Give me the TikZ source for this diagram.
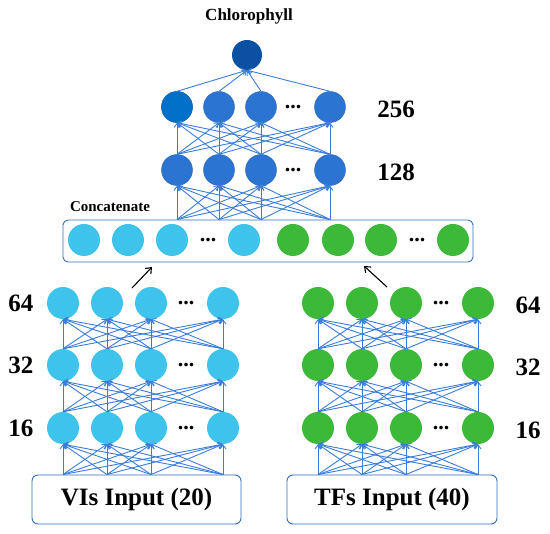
\documentclass[tikz,border=0pt]{standalone}
\usepackage{fontspec}
\setmainfont{Liberation Serif}
\usetikzlibrary{arrows.meta}

\definecolor{viblue}{HTML}{3EC4EC}
\definecolor{tfgreen}{HTML}{3DB93A}
\definecolor{hidblue}{HTML}{2B74D1}
\definecolor{firstblue}{HTML}{0070C8}
\definecolor{outblue}{HTML}{0B50A3}
\definecolor{edgeblue}{HTML}{3A7DD8}
\definecolor{boxblue}{HTML}{2F6DBF}

\begin{document}
\begin{tikzpicture}[x=1pt, y=-1pt, >=Straight Barb,
  neuron/.style={circle, inner sep=0pt, minimum size=32pt},
  vinode/.style={neuron, fill=viblue},
  tfnode/.style={neuron, fill=tfgreen},
  hidnode/.style={neuron, minimum size=31pt, fill=hidblue, draw=hidblue!85!black, line width=0.4pt},
  link/.style={draw=edgeblue, line width=0.9pt, -{Straight Barb[length=4pt, width=6pt]}},
  catarrow/.style={draw=black, line width=1.1pt, -{Straight Barb[length=5pt, width=8pt]}},
  inbox/.style={draw=boxblue, line width=0.9pt, rounded corners=6pt},
  lbl/.style={font=\bfseries\fontsize{25}{25}\selectfont},
  dots/.style={inner sep=0pt, font=\bfseries\fontsize{22}{22}\selectfont}]

  \useasboundingbox (0,0) rectangle (550,534);

  % Title
  \node[font=\bfseries\fontsize{17}{17}\selectfont] (title) at (249,16) {Chlorophyll};

  % Output neuron
  \node[neuron, minimum size=30pt, fill=outblue] (out) at (247,55) {};

  % Hidden layers after concatenation (128 and 256)
  \foreach \l/\y/\n in {1/170/128, 2/107/256} {
    \foreach \i/\x in {1/177, 2/219, 3/261, 4/330}
      \node[hidnode] (h\l-\i) at (\x,\y) {};
    \node[dots] (hdots\l) at (293,\y) {...};
    \node[lbl] (hlab\l) at (396,\y+2) {\n};
  }
  \node[hidnode, fill=firstblue] at (h2-1) {};

  % Concatenate layer
  \node[inbox, rounded corners=5pt, minimum width=410pt, minimum height=42pt] (cat) at (268,241) {};
  \node[font=\bfseries\fontsize{15}{15}\selectfont] (catlab) at (110,207) {Concatenate};
  \foreach \i/\x in {1/84, 2/128, 3/172, 4/244}
    \node[vinode] (cv\i) at (\x,240) {};
  \foreach \i/\x in {1/293, 2/338, 3/381, 4/453}
    \node[tfnode] (ct\i) at (\x,240) {};
  \node[dots] (cvdots) at (208,240) {...};
  \node[dots] (ctdots) at (417,240) {...};

  % VI branch
  \foreach \l/\y/\n in {1/428/16, 2/365/32, 3/303/64} {
    \foreach \i/\x in {1/63, 2/107, 3/151, 4/223}
      \node[vinode] (vi\l-\i) at (\x,\y) {};
    \node[dots] (vidots\l) at (186,\y) {...};
    \node[lbl] (vilab\l) at (21,\y) {\n};
  }
  \node[inbox, lbl, minimum width=209pt, minimum height=49pt] (vibox) at (136.5,499.5) {VIs Input (20)};

  % TF branch
  \foreach \l/\y/\n in {1/428/16, 2/365/32, 3/303/64} {
    \foreach \i/\x in {1/318, 2/362, 3/406, 4/478}
      \node[tfnode] (tf\l-\i) at (\x,\y) {};
    \node[dots] (tfdots\l) at (441,\y) {...};
    \node[lbl] (tflab\l) at (528,\y+2) {\n};
  }
  \node[inbox, lbl, minimum width=210pt, minimum height=49pt] (tfbox) at (392,499.5) {TFs Input (40)};

  % Connections
  \foreach \i in {1,...,4} {
    \foreach \j in {1,...,4} {
      \draw[link] (vi1-\i |- vibox.north) -- (vi1-\j.south);
      \draw[link] (tf1-\i |- tfbox.north) -- (tf1-\j.south);
      \foreach \l/\m in {1/2, 2/3} {
        \draw[link] (vi\l-\i.north) -- (vi\m-\j.south);
        \draw[link] (tf\l-\i.north) -- (tf\m-\j.south);
      }
      \draw[link] (h1-\i |- cat.north) -- (h1-\j.south);
      \draw[link] (h1-\i.north) -- (h2-\j.south);
    }
    \draw[link] (h2-\i.north) -- (out.south);
  }

  % Branch outputs into concatenation
  \coordinate (vifrom) at (132,288);
  \coordinate (vito) at (152,267);
  \coordinate (tffrom) at (387,287);
  \coordinate (tfto) at (364,266);
  \draw[catarrow] (vifrom) -- (vito);
  \draw[catarrow] (tffrom) -- (tfto);

\end{tikzpicture}
\end{document}
